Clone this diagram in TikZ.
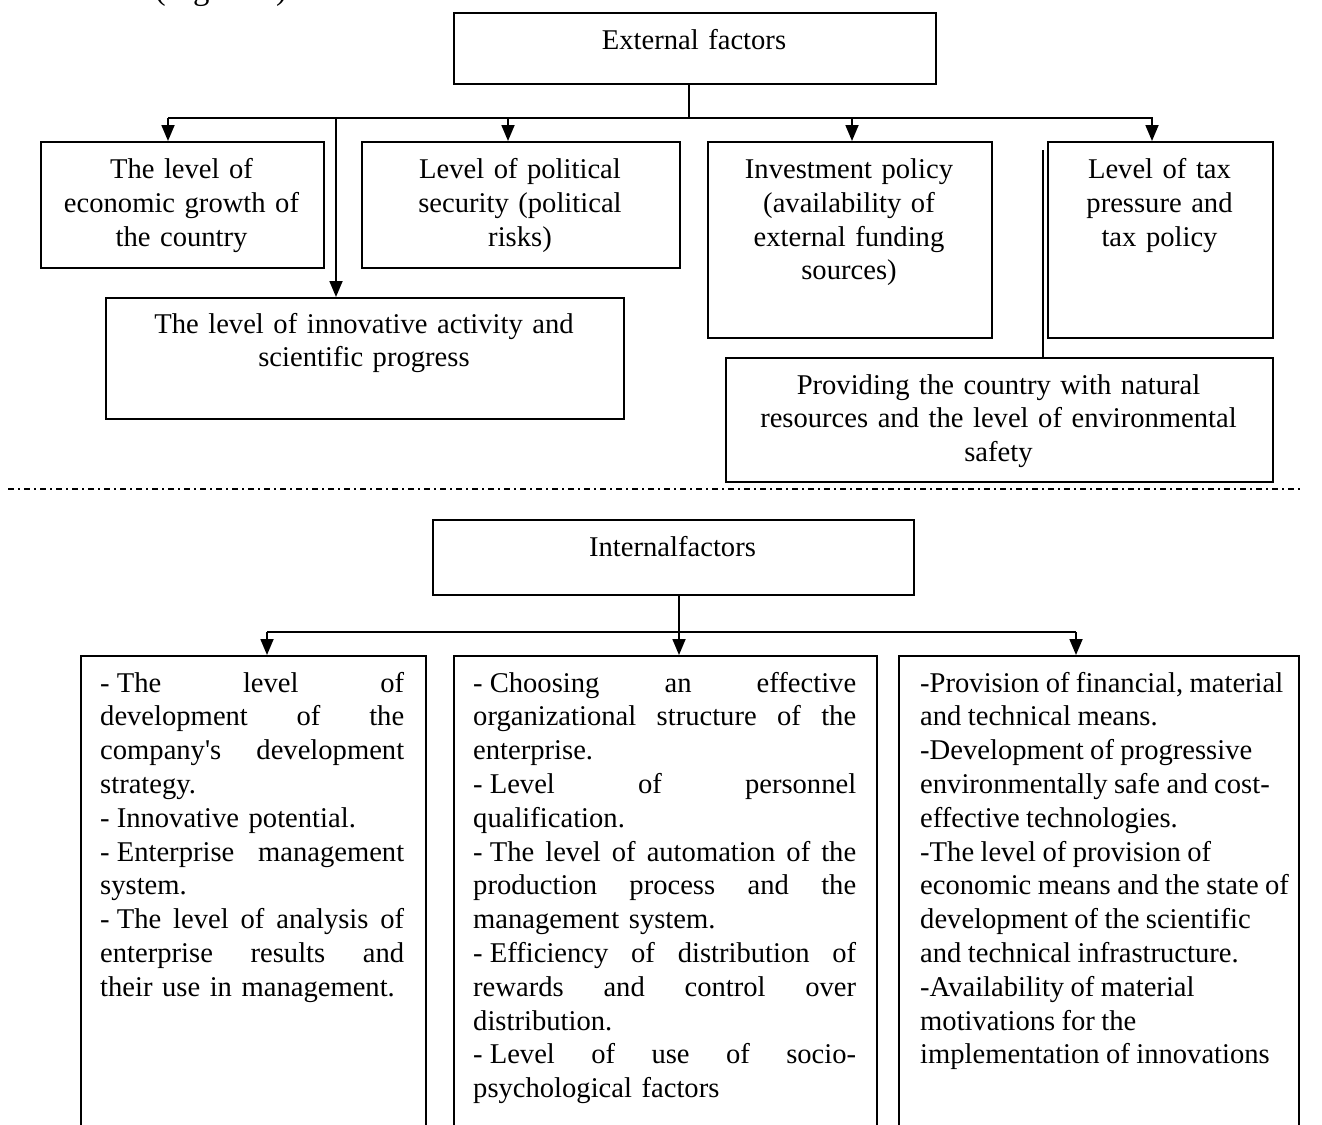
\documentclass[tikz,border=0pt]{standalone}
\usepackage{fontspec}
\setmainfont{Liberation Serif}
\usetikzlibrary{arrows.meta}
% justified lines of the two left lists (fixed widths, gaps filled evenly),
% and a dash with a fixed gap after it
\newcommand{\jla}[1]{\makebox[304pt][l]{#1}}
\newcommand{\jlb}[1]{\makebox[383pt][l]{#1}}
\newcommand{\dsh}{-\hspace{7.1pt}}
\begin{document}
\begin{tikzpicture}[x=1pt,y=-1pt,
  every node/.style={font=\fontsize{28.6}{33.8}\selectfont},
  panel/.style={draw, line width=1.8pt, inner sep=0pt, anchor=north west},
  boxtext/.style={anchor=base, inner sep=0pt, align=center},
  listtext/.style={anchor=base west, inner sep=0pt, align=left, text width=420pt},
  link/.style={line width=1.8pt},
  arr/.style={link, -{Triangle[width=13pt,length=16pt]}},
  sepline/.style={line width=1.8pt, dash pattern=on 6pt off 4pt on 1.5pt off 4.5pt}]
\useasboundingbox (0,0) rectangle (1322,1124);
\clip (0,0) rectangle (1322,1124);

% caption line above the scheme (only its descenders fall inside the page)
\node[anchor=base, inner sep=0pt, font=\fontsize{32.8}{38}\selectfont] (fig) at (221,0) {(Figure 1)};

% ---------- external factors ----------
\node[panel, minimum width=482pt, minimum height=71pt] (ext) at (453,12) {};
\node[boxtext, text width=482pt] (ext-t) at (694,49.5) {External factors};

\node[panel, minimum width=283pt, minimum height=126pt] (econ) at (40,141) {};
\node[boxtext, text width=283pt] (econ-t) at (181.5,178.5)
  {The level of\\economic growth of\\the country};

\node[panel, minimum width=318pt, minimum height=126pt] (pol) at (361,141) {};
\node[boxtext, text width=318pt] (pol-t) at (520,178.5)
  {Level of political\\security (political\\risks)};

\node[panel, minimum width=284pt, minimum height=196pt] (inv) at (707,141) {};
\node[boxtext, text width=284pt] (inv-t) at (849,178.5)
  {Investment policy\\(availability of\\external funding\\sources)};

\node[panel, minimum width=225pt, minimum height=196pt] (tax) at (1047,141) {};
\node[boxtext, text width=225pt] (tax-t) at (1159.5,178.5)
  {Level of tax\\pressure and\\tax policy};

\node[panel, minimum width=518pt, minimum height=121pt] (inno) at (105,297) {};
\node[boxtext, text width=518pt] (inno-t) at (364,333)
  {The level of innovative activity and\\scientific progress};

\node[panel, minimum width=547pt, minimum height=124pt] (nat) at (725,357) {};
\node[boxtext, text width=547pt] (nat-t) at (998.5,394)
  {Providing the country with natural\\resources and the level of environmental\\safety};

% connectors of the external block
\coordinate (s1) at (689,118);
\coordinate (hL) at (168,118);
\coordinate (hR) at (1153,118);
\coordinate (a2) at (508,118);
\coordinate (a3) at (852,118);
\coordinate (a4) at (1152,118);
\coordinate (a5) at (336,118);
\coordinate (v1) at (1043,150);
\draw[link] (s1 |- ext.south) -- (s1);
\draw[link] (hL) -- (hR);
\draw[arr] (hL) -- (hL |- econ.north);
\draw[arr] (a2) -- (a2 |- pol.north);
\draw[arr] (a3) -- (a3 |- inv.north);
\draw[arr] (a4) -- (a4 |- tax.north);
\draw[arr] (a5) -- (a5 |- inno.north);
\draw[link] (v1) -- (v1 |- nat.north);

% ---------- separator ----------
\coordinate (d1) at (8,489);
\coordinate (d2) at (1300,489);
\draw[sepline] (d1) -- (d2);

% ---------- internal factors ----------
\node[panel, minimum width=481pt, minimum height=75pt] (int) at (432,519) {};
\node[boxtext, text width=481pt] (int-t) at (672.5,556.5) {Internalfactors};

\node[panel, minimum width=345pt, minimum height=520pt] (b1) at (80,655) {};
\node[listtext] (b1-t) at (100,692) {%
\jla{\dsh The\hfill level\hfill of}\\
\jla{development\hfill of\hfill the}\\
\jla{company\textquotesingle s\hfill development}\\
strategy.\\
\dsh Innovative potential.\\
\jla{\dsh Enterprise\hfill management}\\
system.\\
\jla{\dsh The\hfill level\hfill of\hfill analysis\hfill of}\\
\jla{enterprise\hfill results\hfill and}\\
their use in management.};

\node[panel, minimum width=423pt, minimum height=520pt] (b2) at (453,655) {};
\node[listtext] (b2-t) at (473,692) {%
\jlb{\dsh Choosing\hfill an\hfill effective}\\
\jlb{organizational\hfill structure\hfill of\hfill the}\\
enterprise.\\
\jlb{\dsh Level\hfill of\hfill personnel}\\
qualification.\\
\jlb{\dsh The\hfill level\hfill of\hfill automation\hfill of\hfill the}\\
\jlb{production\hfill process\hfill and\hfill the}\\
management system.\\
\jlb{\dsh Efficiency\hfill of\hfill distribution\hfill of}\\
\jlb{rewards\hfill and\hfill control\hfill over}\\
distribution.\\
\jlb{\dsh Level\hfill of\hfill use\hfill of\hfill socio-}\\
psychological factors};

\node[panel, minimum width=400pt, minimum height=520pt] (b3) at (898,655) {};
\node[listtext] (b3-t) at (920,692) {\spaceskip=6.4pt\relax
-Provision of financial, material\\
and technical means.\\
-Development of progressive\\
environmentally safe and cost-\\
effective technologies.\\
-The level of provision of\\
economic means and the state of\\
development of the scientific\\
and technical infrastructure.\\
-Availability of material\\
motivations for the\\
implementation of innovations};

% connectors of the internal block
\coordinate (s2) at (679,632);
\coordinate (bL) at (267,632);
\coordinate (bR) at (1076,632);
\draw[link] (s2 |- int.south) -- (s2);
\draw[link] (bL) -- (bR);
\draw[arr] (bL) -- (bL |- b1.north);
\draw[arr] (s2) -- (s2 |- b2.north);
\draw[arr] (bR) -- (bR |- b3.north);
\end{tikzpicture}
\end{document}
